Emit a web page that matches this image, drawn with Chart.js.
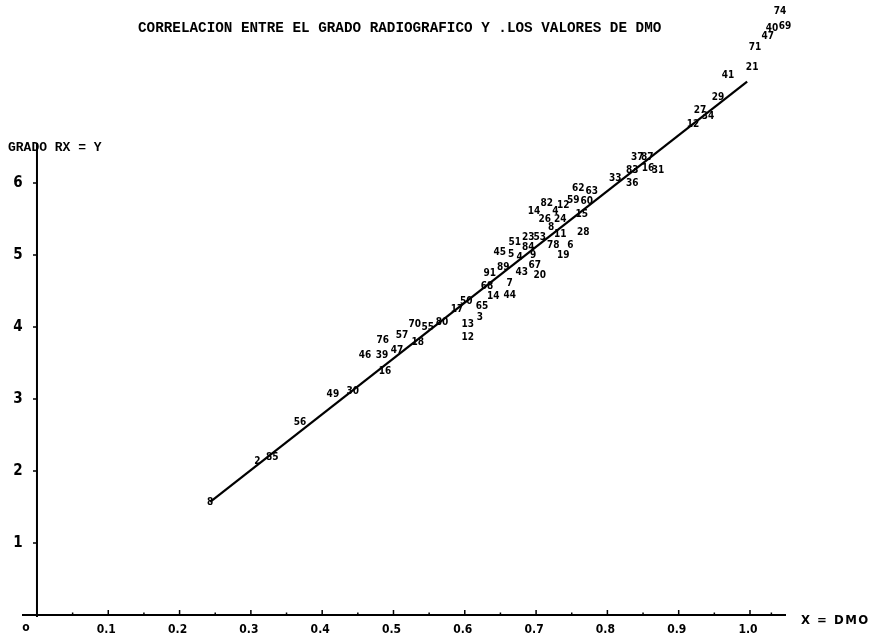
<!DOCTYPE html>
<html><head><meta charset="utf-8">
<script src="https://cdn.jsdelivr.net/npm/chart.js@4"></script>
<style>html,body{margin:0;padding:0;background:#fff;overflow:hidden}</style>
</head><body>
<canvas id="c" width="869" height="638"></canvas>
<script>
// ---- data ----
const pointLabels = ['8','2','85','56','49','30','16','46','39','47','76','57','70','55','18','80','17','50','13','12','3','65','14','44','68','7','91','89','43','67','20','45','5','4','9','19','51','84','23','53','78','6','11','8','28','26','24','4','14','82','12','59','15','60','62','63','33','36','83','37','87','16','31','12','34','27','29','41','21','71','47','40','69','74'];
const dmoValues = [0.243,0.309,0.330,0.369,0.415,0.443,0.488,0.460,0.484,0.505,0.485,0.512,0.530,0.548,0.534,0.568,0.589,0.602,0.604,0.604,0.621,0.624,0.640,0.663,0.631,0.663,0.635,0.654,0.680,0.698,0.705,0.649,0.665,0.677,0.696,0.738,0.670,0.689,0.689,0.705,0.724,0.748,0.734,0.721,0.766,0.712,0.734,0.727,0.697,0.715,0.738,0.752,0.764,0.771,0.759,0.778,0.811,0.835,0.835,0.842,0.856,0.857,0.871,0.920,0.941,0.930,0.955,0.969,1.003,1.007,1.025,1.031,1.049,1.042];
const gradoValues = [1.57,2.13,2.19,2.67,3.06,3.10,3.39,3.61,3.61,3.68,3.82,3.89,4.03,3.99,3.79,4.07,4.24,4.36,4.04,3.86,4.13,4.28,4.43,4.44,4.57,4.60,4.75,4.83,4.76,4.86,4.72,5.03,5.01,4.97,5.00,5.00,5.18,5.11,5.24,5.24,5.14,5.14,5.28,5.39,5.31,5.49,5.49,5.60,5.60,5.72,5.69,5.76,5.56,5.74,5.93,5.89,6.07,6.00,6.18,6.35,6.36,6.21,6.18,6.81,6.92,7.01,7.19,7.50,7.61,7.89,8.03,8.15,8.17,8.38];
const lineX = [0.243, 0.996];
const lineY = [1.57, 7.41];
const xTicks = [0,0.1,0.2,0.3,0.4,0.5,0.6,0.7,0.8,0.9,1.0];
const xTickLabels = ['o','0.1','0.2','0.3','0.4','0.5','0.6','0.7','0.8','0.9','1.0'];
const xMinorTicks = [0.05,0.15,0.25,0.35,0.45,0.55,0.65,0.75,0.85,0.95,1.03];
const yTicks = [1,2,3,4,5,6];
const yTickLabels = ['1','2','3','4','5','6'];
const titleText = 'CORRELACION ENTRE EL GRADO RADIOGRAFICO Y .LOS VALORES DE DMO';
const yAxisTitle = 'GRADO RX = Y';
const xAxisTitle = 'X = DMO';

const handFont = '"DejaVu Sans Condensed", "DejaVu Sans", sans-serif';
const monoFont = '"Liberation Mono", "DejaVu Sans Mono", monospace';

const drawPlugin = {
  id: 'handDrawn',
  afterDatasetsDraw(chart) {
    const ctx = chart.ctx;
    const xs = chart.scales.x, ys = chart.scales.y;
    const ca = chart.chartArea;
    const x0 = xs.getPixelForValue(0), y0 = ys.getPixelForValue(0);
    ctx.save();
    ctx.strokeStyle = '#000';
    ctx.fillStyle = '#000';
    ctx.lineWidth = 2;
    // axes
    ctx.beginPath();
    ctx.moveTo(ca.left, y0); ctx.lineTo(ca.right, y0);
    ctx.moveTo(x0, y0 + 2); ctx.lineTo(x0, ca.top);
    ctx.stroke();
    // ticks
    ctx.lineWidth = 1.5;
    ctx.beginPath();
    xTicks.forEach(v => { if (v === 0) return; const px = xs.getPixelForValue(v); ctx.moveTo(px, y0); ctx.lineTo(px, y0 - 5); });
    xMinorTicks.forEach(v => { const px = xs.getPixelForValue(v); ctx.moveTo(px, y0); ctx.lineTo(px, y0 - 2.5); });
    yTicks.forEach(v => { const py = ys.getPixelForValue(v); ctx.moveTo(x0 - 4, py); ctx.lineTo(x0, py); });
    ctx.stroke();
    // x tick labels
    ctx.font = 'bold 12px ' + handFont;
    ctx.textBaseline = 'middle';
    ctx.textAlign = 'center';
    xTicks.forEach((v, i) => {
      const px = xs.getPixelForValue(v);
      if (v === 0) ctx.fillText(xTickLabels[i], px - 11, y0 + 13);
      else ctx.fillText(xTickLabels[i], px - 2, y0 + 15);
    });
    // y tick labels
    ctx.font = 'bold 15px ' + handFont;
    yTicks.forEach((v, i) => {
      const py = ys.getPixelForValue(v);
      ctx.fillText(yTickLabels[i], x0 - 19, py);
    });
    // axis titles
    ctx.textAlign = 'left';
    ctx.font = 'bold 13px ' + handFont;
    ctx.letterSpacing = '1.5px';
    ctx.fillText(xAxisTitle, ca.right + 15, y0 + 6);
    ctx.letterSpacing = '0px';
    ctx.font = 'bold 13px ' + monoFont;
    ctx.fillText(yAxisTitle, 8, 148);
    // title
    ctx.font = 'bold 14.3px ' + monoFont;
    ctx.fillText(titleText, 138, 28);
    // point labels
    const meta = chart.getDatasetMeta(0);
    ctx.font = 'bold 10px ' + handFont;
    ctx.textAlign = 'center';
    meta.data.forEach((el, i) => {
      ctx.fillText(pointLabels[i], el.x, el.y);
    });
    ctx.restore();
  }
};

new Chart(document.getElementById('c').getContext('2d'), {
  type: 'scatter',
  data: {
    datasets: [
      { label: 'casos', data: dmoValues.map((x, i) => ({ x, y: gradoValues[i] })), pointRadius: 0, showLine: false, clip: false },
      { label: 'recta', data: lineX.map((x, i) => ({ x, y: lineY[i] })), showLine: true, borderColor: '#000', borderWidth: 2.2, pointRadius: 0, fill: false, clip: false }
    ]
  },
  options: {
    responsive: false,
    animation: false,
    devicePixelRatio: 1,
    layout: { padding: { left: 22, right: 83, top: 143, bottom: 23 } },
    plugins: { legend: { display: false }, tooltip: { enabled: false }, title: { display: false } },
    scales: {
      x: { type: 'linear', min: -0.021, max: 1.0505, display: false },
      y: { type: 'linear', min: 0, max: 6.556, display: false }
    }
  },
  plugins: [drawPlugin]
});
</script>
</body></html>
